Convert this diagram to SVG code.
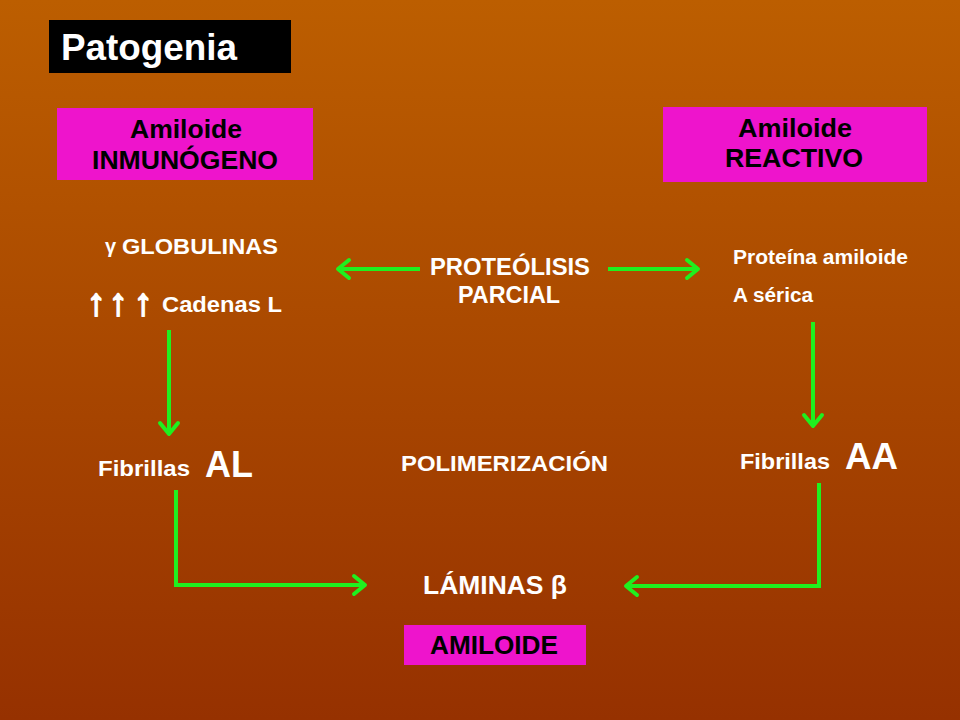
<svg xmlns="http://www.w3.org/2000/svg" width="960" height="720" viewBox="0 0 960 720">
  <defs>
    <linearGradient id="bg" x1="0" y1="0" x2="0" y2="1">
      <stop offset="0" stop-color="#BC5E00"/>
      <stop offset="1" stop-color="#963100"/>
    </linearGradient>
    <marker id="ah" markerUnits="userSpaceOnUse" markerWidth="30" markerHeight="30" viewBox="-15 -15 30 30" refX="0" refY="0" orient="auto" overflow="visible">
      <path d="M-11,-9 L0,0 L-11,9" fill="none" stroke="#1FF01F" stroke-width="4" stroke-linecap="round" stroke-linejoin="round"/>
    </marker>
    <style>
      text { font-family: "Liberation Sans", Arial, sans-serif; font-weight: bold; }
      .w { fill: #FFFFFF; }
      .k { fill: #000000; }
      .mag { fill: #EE14CC; }
      .conn { fill: none; stroke: #1FF01F; stroke-width: 4; marker-end: url(#ah); }
      .up { font-family: "Liberation Sans", "DejaVu Sans", sans-serif; font-weight: bold; fill: #FFFFFF; stroke: #FFFFFF; stroke-width: 1.8; stroke-linejoin: round; }
    </style>
  </defs>

  <rect x="0" y="0" width="960" height="720" fill="url(#bg)"/>

  <g id="title">
    <rect x="49" y="20" width="242" height="53" fill="#000000"/>
    <text class="w" x="61" y="60" font-size="36" textLength="176" lengthAdjust="spacingAndGlyphs">Patogenia</text>
  </g>

  <g id="amiloide-inmunogeno">
    <rect class="mag" x="57" y="108" width="256" height="72"/>
    <text class="k" x="186" y="138" font-size="26" text-anchor="middle" textLength="112" lengthAdjust="spacingAndGlyphs">Amiloide</text>
    <text class="k" x="185" y="169" font-size="26" text-anchor="middle" textLength="186" lengthAdjust="spacingAndGlyphs">INMUNÓGENO</text>
  </g>

  <g id="amiloide-reactivo">
    <rect class="mag" x="663" y="107" width="264" height="75"/>
    <text class="k" x="795" y="137" font-size="26" text-anchor="middle" textLength="114" lengthAdjust="spacingAndGlyphs">Amiloide</text>
    <text class="k" x="794" y="167" font-size="26" text-anchor="middle" textLength="138" lengthAdjust="spacingAndGlyphs">REACTIVO</text>
  </g>

  <g id="globulinas">
    <text class="w" x="105" y="253" font-size="20">γ</text>
    <text class="w" x="122" y="254" font-size="21.5" textLength="156" lengthAdjust="spacingAndGlyphs">GLOBULINAS</text>
    <text class="up" x="96" y="315" font-size="38" text-anchor="middle">↑</text>
    <text class="up" x="118" y="315" font-size="38" text-anchor="middle">↑</text>
    <text class="up" x="143" y="315" font-size="38" text-anchor="middle">↑</text>
    <text class="w" x="162" y="312" font-size="21.5" textLength="120" lengthAdjust="spacingAndGlyphs">Cadenas L</text>
  </g>

  <g id="proteolisis">
    <text class="w" x="510" y="275" font-size="24" text-anchor="middle" textLength="160" lengthAdjust="spacingAndGlyphs">PROTEÓLISIS</text>
    <text class="w" x="509" y="303" font-size="23.5" text-anchor="middle" textLength="102" lengthAdjust="spacingAndGlyphs">PARCIAL</text>
  </g>

  <g id="proteina-amiloide">
    <text class="w" x="733" y="264" font-size="20" textLength="175" lengthAdjust="spacingAndGlyphs">Proteína amiloide</text>
    <text class="w" x="733" y="302" font-size="20" textLength="80" lengthAdjust="spacingAndGlyphs">A sérica</text>
  </g>

  <g id="fibrillas-al">
    <text class="w" x="98" y="476" font-size="22" textLength="92" lengthAdjust="spacingAndGlyphs">Fibrillas</text>
    <text class="w" x="205" y="477" font-size="37" textLength="48" lengthAdjust="spacingAndGlyphs">AL</text>
  </g>

  <g id="polimerizacion">
    <text class="w" x="401" y="471" font-size="21.5" textLength="207" lengthAdjust="spacingAndGlyphs">POLIMERIZACIÓN</text>
  </g>

  <g id="fibrillas-aa">
    <text class="w" x="740" y="469" font-size="22" textLength="90" lengthAdjust="spacingAndGlyphs">Fibrillas</text>
    <text class="w" x="845" y="469" font-size="37" textLength="53" lengthAdjust="spacingAndGlyphs">AA</text>
  </g>

  <g id="laminas">
    <text class="w" x="423" y="594" font-size="25.5" textLength="144" lengthAdjust="spacingAndGlyphs">LÁMINAS β</text>
  </g>

  <g id="amiloide">
    <rect class="mag" x="404" y="625" width="182" height="40"/>
    <text class="k" x="494" y="654" font-size="25.5" text-anchor="middle" textLength="128" lengthAdjust="spacingAndGlyphs">AMILOIDE</text>
  </g>

  <g id="connectors">
    <path class="conn" d="M420,269 H338"/>
    <path class="conn" d="M608,269 H698"/>
    <path class="conn" d="M169,330 V434"/>
    <path class="conn" d="M813,322 V426"/>
    <path class="conn" d="M176,490 V585 H365"/>
    <path class="conn" d="M819,483 V586 H626"/>
  </g>
</svg>
